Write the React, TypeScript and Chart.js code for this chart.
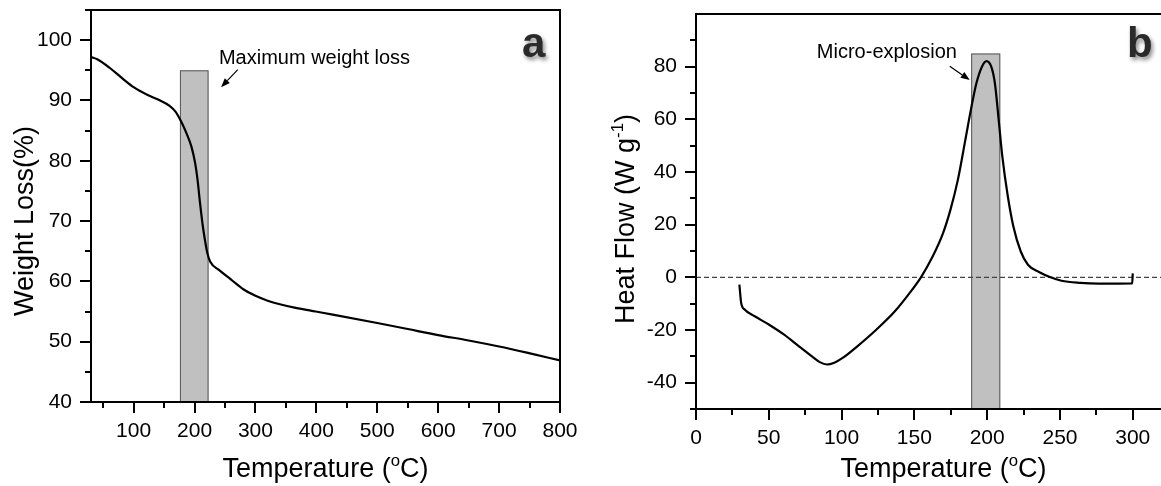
import React, { useEffect, useRef } from "react";
import { Chart, registerables } from "chart.js";
Chart.register(...registerables);

// ---------- Panel a: TGA ----------
const tgaTemp = [30, 41, 62, 81, 100, 123, 141, 159, 169, 178, 187, 195, 201, 205, 209, 213, 217, 221, 226, 240, 260, 280, 300, 320, 340, 366, 399, 427, 500, 550, 600, 650, 700, 749, 800];
const tgaWeight = [97.2, 96.8, 95.3, 93.7, 92.2, 90.9, 90.1, 89.1, 88.1, 86.5, 84.5, 82.3, 79.6, 76.8, 73.0, 69.6, 66.9, 64.7, 63.2, 61.9, 60.3, 58.7, 57.6, 56.8, 56.2, 55.6, 55.0, 54.5, 53.1, 52.1, 51.1, 50.2, 49.2, 48.1, 46.9];
const xTicksA = [100, 200, 300, 400, 500, 600, 700, 800];
const xMinorA = [50, 150, 250, 350, 450, 550, 650, 750];
const yTicksA = [40, 50, 60, 70, 80, 90, 100];
const yMinorA = [45, 55, 65, 75, 85, 95, 105];
const barA = [176, 223, 95]; // from temp, to temp, top value
const labelA = "Maximum weight loss";
const labelAPos = [240, 96.9];
const arrowA = [271, 95.1, 243.6, 92.2];

// ---------- Panel b: DSC ----------
const dscTemp = [29.8, 30.3, 31, 33.6, 40, 50, 60.3, 70.5, 80.7, 85, 90, 95, 101, 111, 124, 136.6, 146.8, 154.5, 162, 169.7, 174.8, 179.9, 185, 188.8, 192.6, 196.4, 199.5, 202.8, 205.3, 207.9, 210.4, 214.2, 218, 223, 228, 235.9, 243.5, 251, 263.9, 276.6, 299.6, 300];
const dscHeat = [-2.8, -5.9, -9.7, -12.3, -14.7, -17.9, -21.7, -26.1, -30.5, -32.2, -33.1, -32.4, -30.5, -26.1, -19.8, -12.9, -5.9, 0, 7.3, 16.8, 25.7, 37.1, 52.2, 63.6, 73.7, 80, 82.1, 80, 73.7, 59.8, 45.9, 30.7, 19.3, 9.9, 4.8, 1.9, 0, -1.3, -2.1, -2.4, -2.3, 1.5];
const xTicksB = [0, 50, 100, 150, 200, 250, 300];
const xMinorB = [25, 75, 125, 175, 225, 275, 325];
const yTicksB = [-40, -20, 0, 20, 40, 60, 80];
const yMinorB = [-50, -30, -10, 10, 30, 50, 70, 90];
const barB = [189, 209, 85];
const labelB = "Micro-explosion";
const labelBPos = [83, 85.5];
const arrowB = [174.3, 80.2, 188, 74.9];
const zeroLine = 0;

const FONT = "'Liberation Sans', Arial, Helvetica, sans-serif";

type Part = { t: string; sup?: boolean };

function drawRich(ctx: CanvasRenderingContext2D, parts: Part[], size: number) {
  const supSize = size * 0.62;
  let total = 0;
  const widths = parts.map((p) => {
    ctx.font = `${p.sup ? supSize : size}px ${FONT}`;
    const w = ctx.measureText(p.t).width;
    total += w;
    return w;
  });
  let x = -total / 2;
  ctx.textAlign = "left";
  ctx.textBaseline = "alphabetic";
  parts.forEach((p, i) => {
    ctx.font = `${p.sup ? supSize : size}px ${FONT}`;
    ctx.fillText(p.t, x, p.sup ? -size * 0.42 : 0);
    x += widths[i];
  });
}

function drawArrow(ctx: CanvasRenderingContext2D, x1: number, y1: number, x2: number, y2: number) {
  const ang = Math.atan2(y2 - y1, x2 - x1);
  const hl = 9, hw = 3.5;
  const bx = x2 - hl * Math.cos(ang), by = y2 - hl * Math.sin(ang);
  ctx.strokeStyle = "#000";
  ctx.lineWidth = 1.2;
  ctx.beginPath();
  ctx.moveTo(x1, y1);
  ctx.lineTo(bx, by);
  ctx.stroke();
  ctx.fillStyle = "#000";
  ctx.beginPath();
  ctx.moveTo(x2, y2);
  ctx.lineTo(bx + hw * Math.sin(ang), by - hw * Math.cos(ang));
  ctx.lineTo(bx - hw * Math.sin(ang), by + hw * Math.cos(ang));
  ctx.closePath();
  ctx.fill();
}

type Cfg = {
  bar: number[];
  zero?: number;
  label: string;
  labelPos: number[];
  arrow: number[];
  xMajor: number[];
  xMinor: number[];
  yMajor: number[];
  yMinor: number[];
  fullFrame: boolean;
  xTitle: Part[];
  yTitle: Part[];
  yTitleX: number;
  yTitleY: number;
  letter: string;
  letterX: number;
};

function makeDecor(cfg: Cfg) {
  return {
    id: "decor",
    beforeDatasetsDraw(chart: any) {
      const { ctx, chartArea, scales } = chart;
      const xs = scales.x, ys = scales.y;
      ctx.save();
      const x0 = xs.getPixelForValue(cfg.bar[0]);
      const x1 = xs.getPixelForValue(cfg.bar[1]);
      const yt = ys.getPixelForValue(cfg.bar[2]);
      ctx.fillStyle = "#c0c0c0";
      ctx.fillRect(x0, yt, x1 - x0, chartArea.bottom - yt);
      ctx.strokeStyle = "#555";
      ctx.lineWidth = 1;
      ctx.strokeRect(x0 + 0.5, yt + 0.5, x1 - x0 - 1, chartArea.bottom - yt);
      if (cfg.zero !== undefined) {
        const yz = ys.getPixelForValue(cfg.zero);
        ctx.strokeStyle = "#444";
        ctx.lineWidth = 1.3;
        ctx.setLineDash([5, 3]);
        ctx.beginPath();
        ctx.moveTo(chartArea.left, yz);
        ctx.lineTo(chart.width, yz);
        ctx.stroke();
        ctx.setLineDash([]);
      }
      ctx.restore();
    },
    afterDraw(chart: any) {
      const { ctx, chartArea, scales } = chart;
      const xs = scales.x, ys = scales.y;
      const { left, right, top, bottom } = chartArea;
      ctx.save();
      ctx.strokeStyle = "#000";
      ctx.lineWidth = 2;
      ctx.lineCap = "square";
      ctx.beginPath();
      if (cfg.fullFrame) {
        ctx.rect(left, top, right - left, bottom - top);
      } else {
        ctx.moveTo(chart.width, top);
        ctx.lineTo(left, top);
        ctx.lineTo(left, bottom);
        ctx.lineTo(chart.width, bottom);
      }
      ctx.stroke();
      ctx.lineCap = "butt";
      // ticks
      ctx.beginPath();
      cfg.xMajor.forEach((v) => {
        const p = Math.round(xs.getPixelForValue(v));
        ctx.moveTo(p, bottom);
        ctx.lineTo(p, bottom + 11);
      });
      cfg.xMinor.forEach((v) => {
        const p = Math.round(xs.getPixelForValue(v));
        if (p > chart.width) return;
        ctx.moveTo(p, bottom);
        ctx.lineTo(p, bottom + 6);
      });
      cfg.yMajor.forEach((v) => {
        const p = Math.round(ys.getPixelForValue(v));
        ctx.moveTo(left, p);
        ctx.lineTo(left - 11, p);
      });
      cfg.yMinor.forEach((v) => {
        const p = Math.round(ys.getPixelForValue(v));
        ctx.moveTo(left, p);
        ctx.lineTo(left - 6, p);
      });
      ctx.stroke();

      // annotation
      ctx.fillStyle = "#000";
      ctx.font = `20px ${FONT}`;
      ctx.textAlign = "left";
      ctx.textBaseline = "middle";
      ctx.fillText(cfg.label, xs.getPixelForValue(cfg.labelPos[0]), ys.getPixelForValue(cfg.labelPos[1]));
      drawArrow(
        ctx,
        xs.getPixelForValue(cfg.arrow[0]),
        ys.getPixelForValue(cfg.arrow[1]),
        xs.getPixelForValue(cfg.arrow[2]),
        ys.getPixelForValue(cfg.arrow[3])
      );

      // x title
      ctx.fillStyle = "#000";
      ctx.save();
      ctx.translate((left + right) / 2, 477);
      drawRich(ctx, cfg.xTitle, 27);
      ctx.restore();
      // y title
      ctx.save();
      ctx.translate(cfg.yTitleX, cfg.yTitleY);
      ctx.rotate(-Math.PI / 2);
      drawRich(ctx, cfg.yTitle, 27);
      ctx.restore();

      // panel letter
      ctx.save();
      ctx.font = `bold 42px ${FONT}`;
      ctx.textAlign = "left";
      ctx.textBaseline = "alphabetic";
      ctx.shadowColor = "rgba(0,0,0,0.45)";
      ctx.shadowBlur = 4;
      ctx.shadowOffsetX = 2;
      ctx.shadowOffsetY = 3;
      ctx.fillStyle = "#2a2a2a";
      ctx.fillText(cfg.letter, cfg.letterX, 57);
      ctx.restore();
      ctx.restore();
    },
  };
}

function zeroPad(s: any) {
  s.paddingTop = 0;
  s.paddingBottom = 0;
  s.paddingLeft = 0;
  s.paddingRight = 0;
}

function buildChart(
  canvas: HTMLCanvasElement,
  xs: number[],
  ys: number[],
  xMin: number,
  xMax: number,
  yMin: number,
  yMax: number,
  xTicks: number[],
  yTicks: number[],
  area: { left: number; top: number; right: number; bottom: number },
  cfg: Cfg
) {
  const W = canvas.width, H = canvas.height;
  const tickFont = { family: FONT, size: 21 };
  const chart: any = new Chart(canvas, {
    type: "line",
    data: {
      datasets: [
        {
          data: xs.map((x, i) => ({ x, y: ys[i] })),
          borderColor: "#000",
          borderWidth: 2.2,
          pointRadius: 0,
          fill: false,
          cubicInterpolationMode: "monotone",
        },
      ],
    },
    options: {
      animation: false,
      responsive: false,
      maintainAspectRatio: false,
      events: [],
      layout: { padding: { top: area.top, right: W - area.right, left: 0, bottom: 0 } },
      plugins: { legend: { display: false }, tooltip: { enabled: false } },
      scales: {
        x: {
          type: "linear",
          min: xMin,
          max: xMax,
          grid: { display: false, drawTicks: false },
          border: { display: false },
          ticks: { font: tickFont, color: "#000", padding: 17, maxRotation: 0, autoSkip: false },
          afterBuildTicks: (s: any) => {
            s.ticks = xTicks.map((v) => ({ value: v }));
          },
          afterFit: (s: any) => {
            s.height = H - area.bottom;
            zeroPad(s);
          },
        },
        y: {
          type: "linear",
          min: yMin,
          max: yMax,
          grid: { display: false, drawTicks: false },
          border: { display: false },
          ticks: { font: tickFont, color: "#000", padding: 19, autoSkip: false },
          afterBuildTicks: (s: any) => {
            s.ticks = yTicks.map((v) => ({ value: v }));
          },
          afterFit: (s: any) => {
            s.width = area.left;
            zeroPad(s);
          },
        },
      },
    },
    plugins: [makeDecor(cfg)],
  } as any);
  // correct any residual layout offsets so the plot area lands where intended
  for (let i = 0; i < 3; i++) {
    const ca = chart.chartArea;
    const pad = chart.options.layout.padding;
    const dTop = area.top - ca.top;
    const dRight = ca.right - area.right;
    const dBottom = ca.bottom - area.bottom;
    const dLeft = area.left - ca.left;
    if (Math.abs(dTop) < 0.5 && Math.abs(dRight) < 0.5 && Math.abs(dBottom) < 0.5 && Math.abs(dLeft) < 0.5) break;
    chart.options.layout.padding = {
      top: Math.max(0, pad.top + dTop),
      right: Math.max(0, pad.right + dRight),
      bottom: Math.max(0, (pad.bottom || 0) + dBottom),
      left: Math.max(0, (pad.left || 0) + dLeft),
    };
    chart.update();
  }
  return chart;
}

export default function App() {
  const refA = useRef<HTMLCanvasElement>(null);
  const refB = useRef<HTMLCanvasElement>(null);

  useEffect(() => {
    const a = buildChart(
      refA.current!,
      tgaTemp,
      tgaWeight,
      30,
      800,
      40,
      105,
      xTicksA,
      yTicksA,
      { left: 91, top: 10, right: 560, bottom: 402 },
      {
        bar: barA,
        label: labelA,
        labelPos: labelAPos,
        arrow: arrowA,
        xMajor: xTicksA,
        xMinor: xMinorA,
        yMajor: yTicksA,
        yMinor: yMinorA,
        fullFrame: true,
        xTitle: [{ t: "Temperature (" }, { t: "o", sup: true }, { t: "C)" }],
        yTitle: [{ t: "Weight Loss(%)" }],
        yTitleX: 33,
        yTitleY: 221,
        letter: "a",
        letterX: 522,
      }
    );
    const b = buildChart(
      refB.current!,
      dscTemp,
      dscHeat,
      0,
      340,
      -50,
      100,
      xTicksB,
      yTicksB,
      { left: 116, top: 14, right: 611, bottom: 409 },
      {
        bar: barB,
        zero: zeroLine,
        label: labelB,
        labelPos: labelBPos,
        arrow: arrowB,
        xMajor: xTicksB,
        xMinor: xMinorB,
        yMajor: yTicksB,
        yMinor: yMinorB,
        fullFrame: false,
        xTitle: [{ t: "Temperature (" }, { t: "o", sup: true }, { t: "C)" }],
        yTitle: [{ t: "Heat Flow (W g" }, { t: "-1", sup: true }, { t: ")" }],
        yTitleX: 54,
        yTitleY: 219,
        letter: "b",
        letterX: 547,
      }
    );
    return () => {
      a.destroy();
      b.destroy();
    };
  }, []);

  return (
    <div
      style={{
        position: "fixed",
        left: 0,
        top: 0,
        width: 1161,
        height: 486,
        overflow: "hidden",
        background: "#fff",
      }}
    >
      <canvas ref={refA} width={580} height={486} style={{ position: "absolute", left: 0, top: 0 }} />
      <canvas ref={refB} width={640} height={486} style={{ position: "absolute", left: 580, top: 0 }} />
    </div>
  );
}
